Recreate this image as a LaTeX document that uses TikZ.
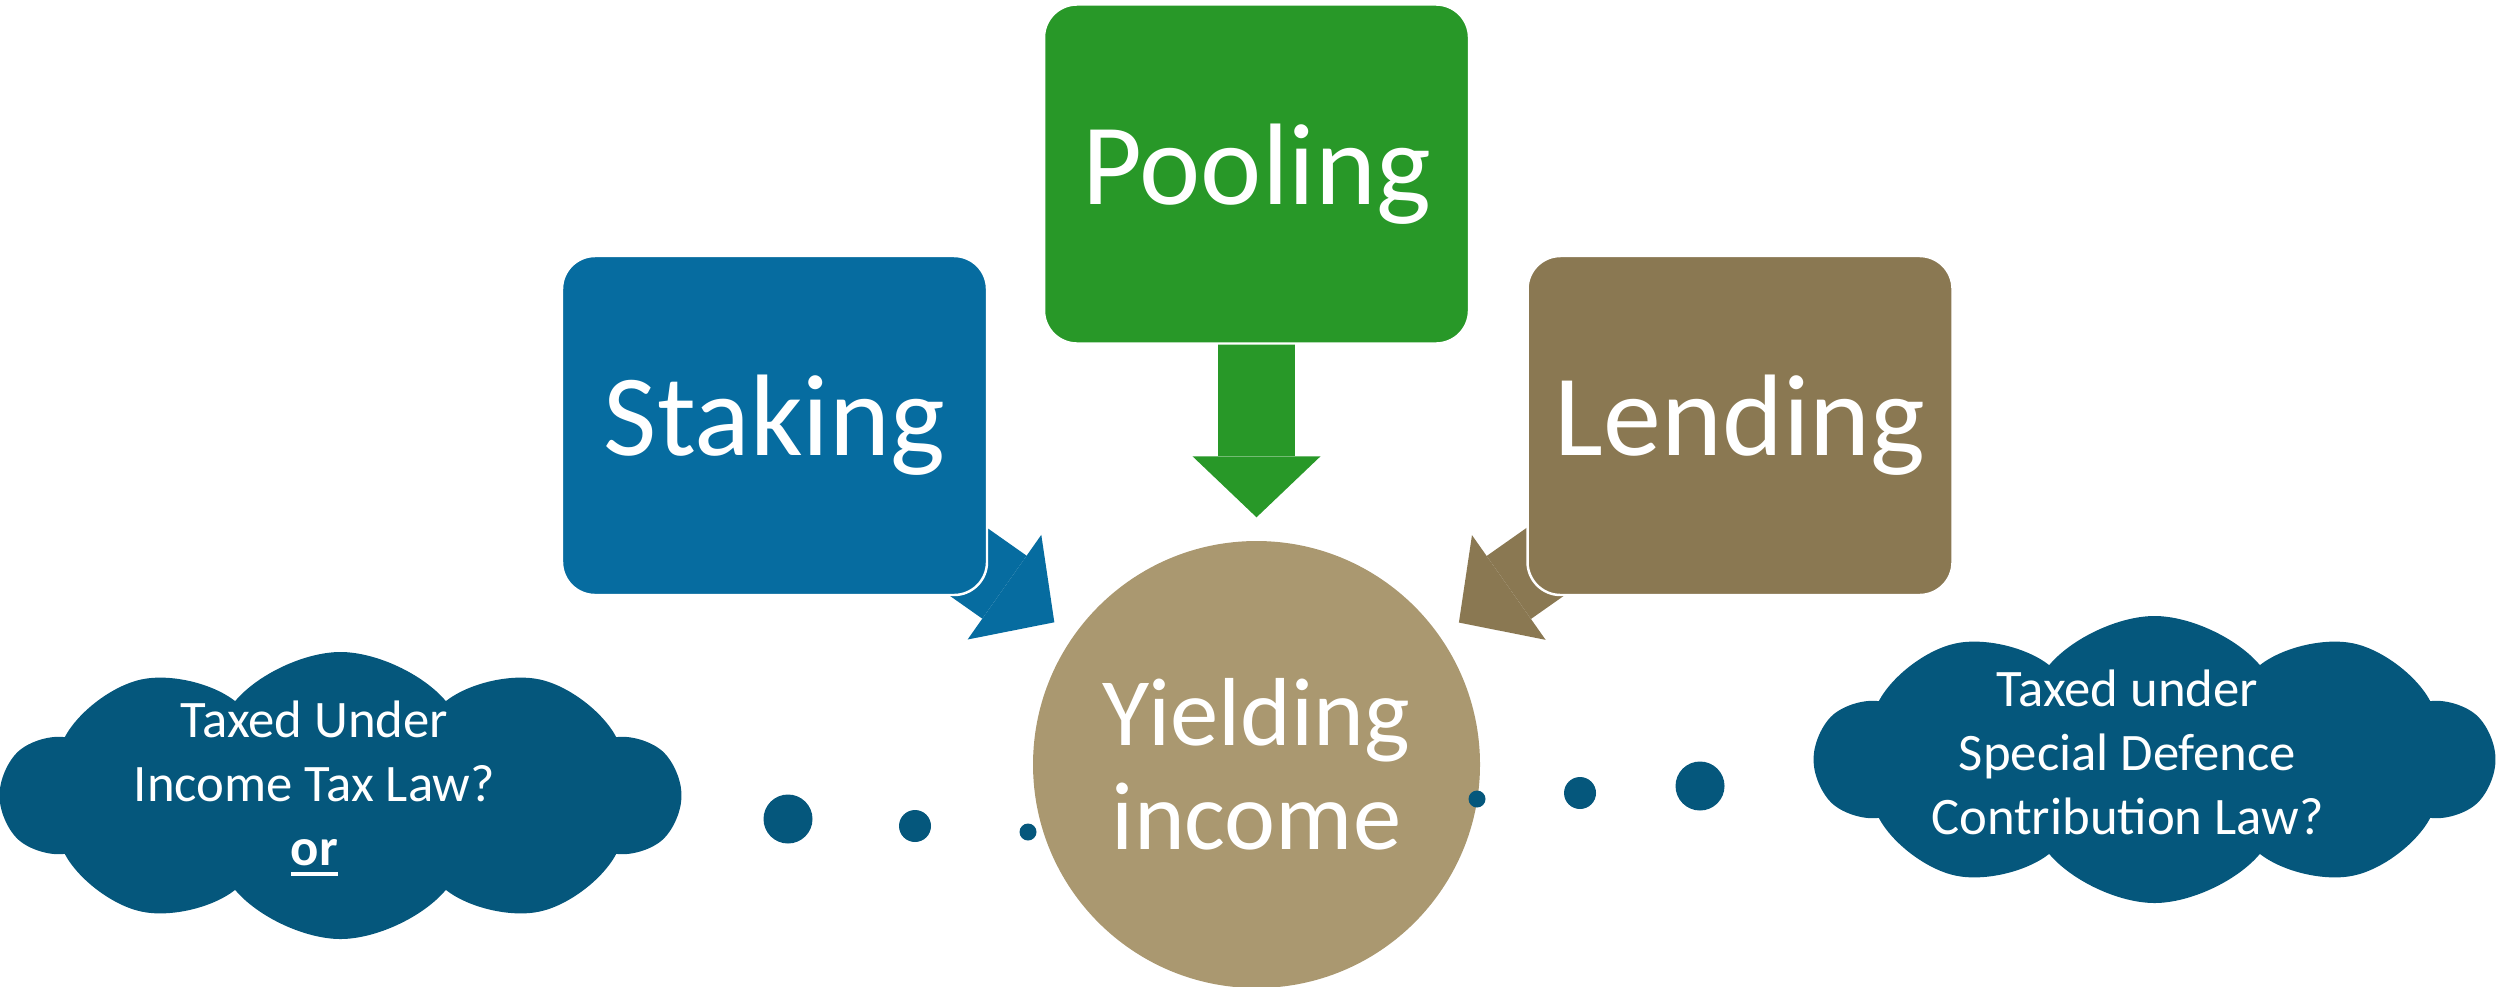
\documentclass[tikz,border=0pt]{standalone}
\usepackage{fontspec}
\setmainfont{Carlito}
\usetikzlibrary{calc,positioning,arrows.meta,shapes.geometric,shapes.symbols}
\pgfdeclarelayer{background}
\pgfsetlayers{background,main}

\definecolor{stakeblue}{HTML}{066CA0}
\definecolor{poolgreen}{HTML}{289828}
\definecolor{lendbrown}{HTML}{8A7852}
\definecolor{yieldtan}{HTML}{AA9870}
\definecolor{cloudblue}{HTML}{05577C}

% thick underline for the little "or"
\newcommand{\orline}[1]{\setbox0\hbox{#1}\rlap{\rule[-2.85pt]{\wd0}{1.1pt}}\box0}

\begin{document}
\begin{tikzpicture}[
box/.style={
	rectangle,
	rounded corners=0.33cm,
	draw=white,
	line width=0.7pt,
	minimum width=4.25cm,
	minimum height=3.39cm,
	text=white,
	font=\fontsize{33}{40}\selectfont
},
hub/.style={
	circle,
	fill=yieldtan,
	minimum size=4.47cm,
	inner sep=0pt,
	text=white,
	align=center,
	font=\fontsize{27.5}{29.6}\selectfont
},
feed/.style={
	line width=0.77cm,
	-{Triangle[width=1.28cm,length=0.61cm,line width=0pt]},
	shorten <=-1cm,
	shorten >=0.23cm
},
bubble/.style={
	cloud,
	cloud puffs=10,
	cloud puff arc=100,
	aspect=2.4,
	fill=cloudblue,
	minimum width=6.77cm,
	minimum height=2.87cm
},
question/.style={
	text=white,
	align=center,
	font=\fontsize{15}{18.2}\selectfont
},
bullet/.style={
	circle,
	fill=cloudblue,
	inner sep=0pt
}
]
\useasboundingbox (0,0) rectangle (25.04,9.86);

\node[box,fill=poolgreen] (pooling) at (12.565,8.12) {Pooling};
\node[box,fill=stakeblue] (staking) at (7.745,5.605) {Staking};
\node[box,fill=lendbrown] (lending) at (17.40,5.605) {Lending};
\node[hub] (yield) at (12.565,2.215) {Yielding\\income};

% clouds on both sides
\node[bubble] (itl) at (3.405,1.905) {};
\node[question] at ($(itl.center)+(-0.26,0.07)$) {Taxed Under\\Income Tax Law?\\\orline{\textbf{or}}};
\node[bubble] (sdc) at (21.545,2.265) {};
\node[question] at ($(sdc.center)+(-0.27,0.075)$) {Taxed under\\Special Defence\\Contribution Law?};

\foreach \i/\x/\y/\r in {1/7.88/1.67/0.49,2/9.15/1.60/0.32,3/10.28/1.54/0.17,%
	4/14.77/1.87/0.17,5/15.80/1.93/0.32,6/17.00/2.00/0.49}
\node[bullet,minimum size=\r cm] (d\i) at (\x,\y) {};

\begin{pgfonlayer}{background}
\draw[feed,stakeblue] (staking) -- (yield);
\draw[feed,poolgreen] (pooling) -- (yield);
\draw[feed,lendbrown] (lending) -- (yield);
\end{pgfonlayer}
\end{tikzpicture}
\end{document}
